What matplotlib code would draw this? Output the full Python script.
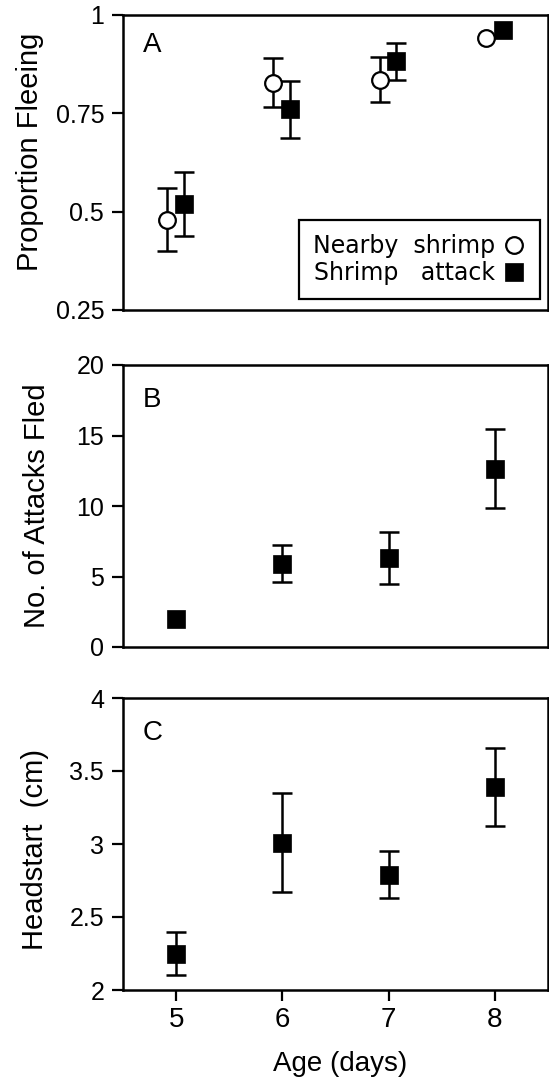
import matplotlib
matplotlib.use("Agg")
import matplotlib.pyplot as plt
from matplotlib.lines import Line2D

plt.rcParams['font.family'] = ['Liberation Sans', 'DejaVu Sans']

# data (0 error = no bar drawn)
age = [5, 6, 7, 8]

# A: proportion fleeing
nearby_mean = [0.48, 0.828, 0.836, 0.942]
nearby_err = [0.08, 0.063, 0.056, 0.0]
attack_mean = [0.52, 0.76, 0.882, 0.962]
attack_err = [0.082, 0.072, 0.047, 0.0]

# B: number of attacks fled
fled_mean = [2.0, 5.9, 6.3, 12.65]
fled_err = [0.0, 1.3, 1.85, 2.8]

# C: headstart
head_mean = [2.25, 3.01, 2.79, 3.39]
head_err = [0.145, 0.34, 0.16, 0.265]

W, H = 549, 1091
fig = plt.figure(figsize=(W / 100, H / 100), dpi=100)

def px_axes(top, bottom, left=123, right=548):
    return fig.add_axes([left / W, 1 - bottom / H, (right - left) / W, (bottom - top) / H])

axA = px_axes(15, 310)
axB = px_axes(365, 647)
axC = px_axes(698, 990)

ebkw = dict(ecolor='black', elinewidth=1.8, capsize=7, capthick=1.8, fmt='none')
circ = dict(marker='o', ms=12, mfc='white', mec='black', mew=1.6)
sq = dict(marker='s', ms=12.5, mfc='black', mec='black', mew=0.5)

def points(ax, x, y, err, style):
    # error bars only where there is one, then the markers on top
    xe = [a for a, e in zip(x, err) if e > 0]
    ye = [b for b, e in zip(y, err) if e > 0]
    ee = [e for e in err if e > 0]
    ax.errorbar(xe, ye, yerr=ee, zorder=2, **ebkw)
    ax.plot(x, y, linestyle='none', zorder=3, **style)

xa = [a - 0.085 for a in age]
xb = [a + 0.072 for a in age]
points(axA, xa, nearby_mean, nearby_err, circ)
points(axA, xb, attack_mean, attack_err, sq)
axA.set_ylim(0.25, 1)
axA.set_yticks([0.25, 0.5, 0.75, 1])
axA.set_yticklabels(['0.25', '0.5', '0.75', '1'])
axA.set_ylabel('Proportion Fleeing')

handles = [Line2D([], [], linestyle='none', **circ), Line2D([], [], linestyle='none', **sq)]
leg = axA.legend(handles, ['Nearby  shrimp', 'Shrimp   attack'], loc='lower right',
                 bbox_to_anchor=((540 - 123) / 425, 1 - (299 - 15) / 295), borderaxespad=0,
                 markerfirst=False, fancybox=False, edgecolor='black', framealpha=1,
                 prop={'family': 'DejaVu Sans', 'size': 17},
                 handletextpad=0.3, borderpad=0.6, labelspacing=0.1, handlelength=1.0)
leg.get_frame().set_linewidth(1.6)

points(axB, age, fled_mean, fled_err, sq)
axB.set_ylim(0, 20)
axB.set_yticks([0, 5, 10, 15, 20])
axB.set_ylabel('No. of Attacks Fled')

points(axC, age, head_mean, head_err, sq)
axC.set_ylim(2, 4)
axC.set_yticks([2, 2.5, 3, 3.5, 4])
axC.set_yticklabels(['2', '2.5', '3', '3.5', '4'])
axC.set_ylabel('Headstart  (cm)')
axC.set_xticks(age)
axC.set_xlabel('Age (days)', fontsize=20)
axC.xaxis.set_label_coords(0.51, -0.253)
axC.xaxis.label.set_va('center')

# y label centre positions in pixels (x) and axes fraction (y)
ylab_pos = {axA: (30, 0.535), axB: (37, 0.5), axC: (35, 0.48)}
for ax, letter, ly in [(axA, 'A', 0.899), (axB, 'B', 0.876), (axC, 'C', 0.88)]:
    ax.set_xlim(4.5, 8.5)
    for s in ax.spines.values():
        s.set_linewidth(1.8)
    ax.tick_params(axis='y', direction='out', length=8, width=1.6, labelsize=18, pad=5.5)
    ax.tick_params(axis='x', direction='out', length=8, width=1.6, labelsize=20, pad=4)
    ax.yaxis.label.set_size(21)
    ax.yaxis.label.set_va('center')
    px, fy = ylab_pos[ax]
    ax.yaxis.set_label_coords((px - 123) / 425, fy)
    ax.text(0.047, ly, letter, transform=ax.transAxes, fontsize=20, va='center', ha='left')
    if ax is not axC:
        ax.set_xticks([])

fig.savefig('out.png', dpi=100)
